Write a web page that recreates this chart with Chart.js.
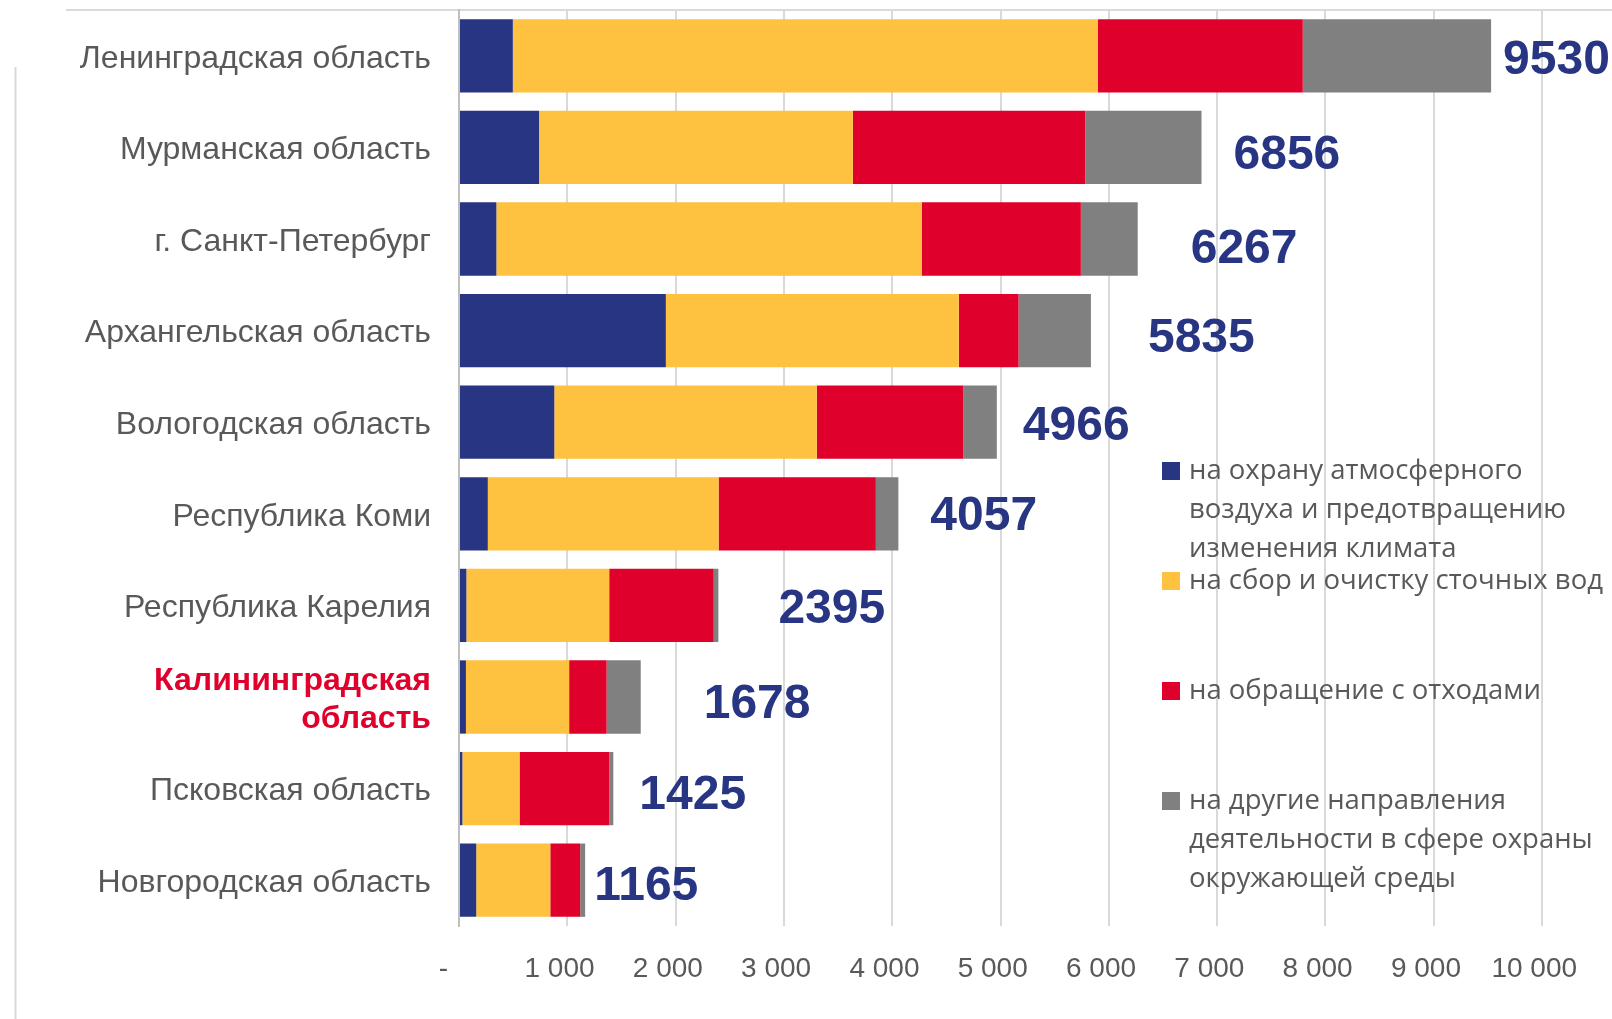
<!DOCTYPE html>
<html lang="ru">
<head>
<meta charset="utf-8">
<title>Расходы на охрану окружающей среды</title>
<script src="https://cdn.jsdelivr.net/npm/chart.js@4.4.1/dist/chart.umd.min.js"></script>
<style>
    html, body { margin: 0; padding: 0; background: #ffffff; }
    #wrap { width: 1612px; height: 1019px; position: relative; }
</style>
</head>
<body>
<div id="wrap"><canvas id="expensesChart"></canvas></div>
<script>
const regions = [
    'Ленинградская область',
    'Мурманская область',
    'г. Санкт-Петербург',
    'Архангельская область',
    'Вологодская область',
    'Республика Коми',
    'Республика Карелия',
    ['Калининградская', 'область'],
    'Псковская область',
    'Новгородская область'
];
const highlightIndex = 7;

const airValues   = [497, 739, 345, 1910, 880, 266, 68, 64, 31, 159];
const waterValues = [5403, 2898, 3927, 2705, 2424, 2131, 1319, 953, 528, 684];
const wasteValues = [1891, 2146, 1470, 552, 1353, 1452, 965, 346, 828, 276];
const otherValues = [1739, 1073, 525, 668, 309, 208, 43, 315, 38, 46];
const totals      = [9530, 6856, 6267, 5835, 4966, 4057, 2395, 1678, 1425, 1165];

const seriesNames = [
    ['на охрану атмосферного', 'воздуха и предотвращению', 'изменения климата'],
    ['на сбор и очистку сточных вод'],
    ['на обращение с отходами'],
    ['на другие направления', 'деятельности в сфере охраны', 'окружающей среды']
];
const seriesColors = ['#283583', '#fec240', '#e0002c', '#808080'];

const GREY_TEXT = '#595959';

function formatThousands(value) {
    if (value === 0) return '-\u2007\u2007';
    return String(value).replace(/\B(?=(\d{3})+(?!\d))/g, '\u00a0') + '\u2007';
}

// white page + the partly hidden frame of the slide chart
const frame = {
    id: 'frame',
    beforeDraw(chart) {
        const ctx = chart.ctx;
        ctx.save();
        ctx.fillStyle = '#ffffff';
        ctx.fillRect(0, 0, chart.width, chart.height);
        ctx.strokeStyle = '#d9d9d9';
        ctx.lineWidth = 2;
        ctx.beginPath();
        ctx.moveTo(66, 10);
        ctx.lineTo(chart.width, 10);
        ctx.moveTo(15.5, 67);
        ctx.lineTo(15.5, chart.height);
        ctx.stroke();
        ctx.restore();
    }
};

// totals to the right of every bar
const totalLabels = {
    id: 'totalLabels',
    afterDatasetsDraw(chart, args, opts) {
        const ctx = chart.ctx;
        const last = chart.getDatasetMeta(chart.data.datasets.length - 1);
        ctx.save();
        ctx.font = 'bold 48px "Liberation Sans", Arial, sans-serif';
        ctx.fillStyle = opts.color;
        ctx.textAlign = 'left';
        ctx.textBaseline = 'middle';
        last.data.forEach(function (bar, i) {
            ctx.fillText(String(totals[i]), bar.x + opts.nudgeX[i], bar.y + opts.nudgeY[i]);
        });
        ctx.restore();
    }
};

// legend drawn inside the plot, lines wrapped like the original
const sideLegend = {
    id: 'sideLegend',
    afterDraw(chart, args, opts) {
        const ctx = chart.ctx;
        const area = chart.chartArea;
        const x = area.left + opts.offsetX;
        ctx.save();
        ctx.font = opts.font;
        ctx.textAlign = 'left';
        ctx.textBaseline = 'middle';
        chart.data.datasets.forEach(function (ds, i) {
            const cy = area.top + opts.offsetY + i * opts.itemGap;
            ctx.fillStyle = ds.backgroundColor;
            ctx.fillRect(x, cy - 9, 18, 18);
            ctx.fillStyle = GREY_TEXT;
            seriesNames[i].forEach(function (line, j) {
                ctx.fillText(line, x + 27, cy + j * opts.lineGap);
            });
        });
        ctx.restore();
    }
};

const datasets = [airValues, waterValues, wasteValues, otherValues].map(function (values, i) {
    return {
        label: seriesNames[i].join(' '),
        data: values,
        backgroundColor: seriesColors[i],
        borderWidth: 0,
        barPercentage: 0.8,
        categoryPercentage: 1.0
    };
});

new Chart(document.getElementById('expensesChart'), {
    type: 'bar',
    data: {
        labels: regions,
        datasets: datasets
    },
    plugins: [frame, totalLabels, sideLegend],
    options: {
        indexAxis: 'y',
        responsive: true,
        maintainAspectRatio: false,
        animation: false,
        layout: {
            padding: { top: 10, right: 70, left: 0, bottom: 0 }
        },
        plugins: {
            legend: { display: false },
            tooltip: { enabled: false },
            totalLabels: {
                color: '#283583',
                nudgeX: [12, 32, 53, 57, 26, 32, 60, 63, 26, 9],
                nudgeY: [5, 8, 11, 8, 5, 3, 4, 8, 7, 7]
            },
            sideLegend: {
                font: '27.5px "Open Sans", "Noto Sans", sans-serif',
                offsetX: 703,
                offsetY: 461,
                itemGap: 110,
                lineGap: 39
            }
        },
        scales: {
            x: {
                stacked: true,
                min: 0,
                max: 10000,
                position: 'bottom',
                afterFit: function (scale) {
                    scale.height = 93;
                    scale.paddingLeft = 0;
                    scale.paddingRight = 0;
                },
                border: { display: false },
                grid: {
                    color: '#d9d9d9',
                    lineWidth: 2,
                    drawTicks: false
                },
                ticks: {
                    stepSize: 1000,
                    padding: 26,
                    color: GREY_TEXT,
                    font: { family: '"Liberation Sans", Arial, sans-serif', size: 28 },
                    callback: formatThousands,
                    maxRotation: 0
                }
            },
            y: {
                stacked: true,
                afterFit: function (scale) {
                    scale.width = 459;
                    scale.paddingTop = 0;
                    scale.paddingBottom = 0;
                },
                border: { display: true, color: '#bfbfbf', width: 2 },
                grid: { display: false, drawTicks: false },
                ticks: {
                    padding: 28,
                    labelOffset: 3,
                    color: function (c) { return c.index === highlightIndex ? '#e0002c' : GREY_TEXT; },
                    font: function (c) {
                        return {
                            family: '"Liberation Sans", Arial, sans-serif',
                            size: 32,
                            weight: c.index === highlightIndex ? 'bold' : 'normal',
                            lineHeight: 1.2
                        };
                    }
                }
            }
        }
    }
});
</script>
</body>
</html>
